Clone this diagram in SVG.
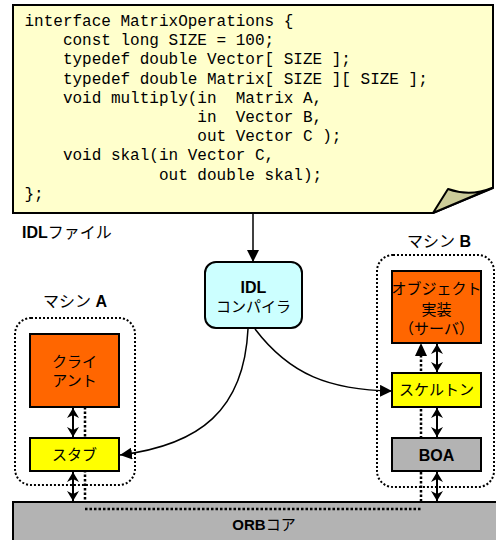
<svg xmlns="http://www.w3.org/2000/svg" width="496" height="540" viewBox="0 0 496 540">
<style>
.code{font-family:"Liberation Mono","DejaVu Sans Mono",monospace;font-size:16px;fill:#000;white-space:pre}
.lbl{font-family:"Liberation Sans","Noto Sans CJK JP",sans-serif;font-size:15px;fill:#000}
.hdr{font-size:16px}
.b{font-weight:bold}
.box{stroke:#000;stroke-width:2}
.dotbox{fill:none;stroke:#000;stroke-width:2;stroke-dasharray:2 2}
.conn{fill:none;stroke:#000;stroke-width:1.5}
.dbl{fill:none;stroke:#000;stroke-width:2;marker-start:url(#ah2);marker-end:url(#ah2)}
.dots{fill:none;stroke:#000;stroke-width:2.5;stroke-dasharray:2.5 2}
</style>
<defs>
<marker id="ah" viewBox="0 0 12 12" refX="12" refY="6" markerWidth="12" markerHeight="12" markerUnits="userSpaceOnUse" orient="auto">
<path d="M0,0 L12,6 L0,12 z" fill="#000"/>
</marker>
<marker id="ah2" viewBox="0 0 10 12" refX="10" refY="6" markerWidth="10" markerHeight="12" markerUnits="userSpaceOnUse" orient="auto-start-reverse">
<path d="M0,0 L10,6 L0,12 L3,6 z" fill="#000"/>
</marker>
</defs>

<g id="idl-file">
<path d="M13,5 H493 V188 L433,213 H13 Z" fill="#ffffcc" stroke="#000" stroke-width="2"/>
<path d="M433,213 L448,189 Q470,197 492,188 Z" fill="#cccc99" stroke="#000" stroke-width="2" stroke-linejoin="round"/>
<text class="code" xml:space="preserve" x="24.5" y="26">interface MatrixOperations {</text>
<text class="code" xml:space="preserve" x="24.5" y="45.2">    const long SIZE = 100;</text>
<text class="code" xml:space="preserve" x="24.5" y="64.4">    typedef double Vector[ SIZE ];</text>
<text class="code" xml:space="preserve" x="24.5" y="83.6">    typedef double Matrix[ SIZE ][ SIZE ];</text>
<text class="code" xml:space="preserve" x="24.5" y="102.8">    void multiply(in  Matrix A,</text>
<text class="code" xml:space="preserve" x="24.5" y="122">                  in  Vector B,</text>
<text class="code" xml:space="preserve" x="24.5" y="141.2">                  out Vector C );</text>
<text class="code" xml:space="preserve" x="24.5" y="160.4">    void skal(in Vector C,</text>
<text class="code" xml:space="preserve" x="24.5" y="179.6">              out double skal);</text>
<text class="code" xml:space="preserve" x="24.5" y="198.8">};</text>
<text class="lbl hdr" x="22" y="238"><tspan class="b">IDL</tspan>ファイル</text>
</g>

<g id="machine-a">
<rect class="dotbox" x="15" y="318" width="120" height="167" rx="16"/>
<text class="lbl hdr" x="75" y="307" text-anchor="middle">マシン <tspan class="b">A</tspan></text>
</g>

<g id="machine-b">
<rect class="dotbox" x="377" y="255" width="117" height="232" rx="16"/>
<text class="lbl hdr" x="439" y="247" text-anchor="middle">マシン <tspan class="b">B</tspan></text>
</g>

<g id="connectors">
<path class="dots" d="M85,407 V509 H421 V355"/>
<path d="M415,356 L421,343 L427,356 z" fill="#000"/>
<line class="dbl" x1="73" y1="408" x2="73" y2="437"/>
<line class="dbl" x1="73" y1="472" x2="73" y2="501"/>
<line class="dbl" x1="437" y1="344" x2="437" y2="372"/>
<line class="dbl" x1="437" y1="408" x2="437" y2="437"/>
<line class="dbl" x1="437" y1="472" x2="437" y2="501"/>
<line class="conn" x1="253" y1="214" x2="253" y2="262" marker-end="url(#ah)"/>
<path class="conn" d="M248,329 C244,410 200,445 120,455" marker-end="url(#ah)"/>
<path class="conn" d="M255,329 C290,375 330,390 392,391" marker-end="url(#ah)"/>
</g>

<g id="idl-compiler">
<rect class="box" x="205" y="262" width="97" height="66" rx="11" fill="#ccffff"/>
<text class="lbl hdr b" x="253.5" y="293" text-anchor="middle">IDL</text>
<text class="lbl" x="253.5" y="312" text-anchor="middle">コンパイラ</text>
</g>

<g id="client">
<rect class="box" x="30" y="334" width="89" height="73" fill="#ff6600"/>
<text class="lbl" x="74.5" y="367" text-anchor="middle">クライ</text>
<text class="lbl" x="74.5" y="386" text-anchor="middle">アント</text>
</g>

<g id="stub">
<rect class="box" x="30" y="438" width="89" height="33" fill="#ffff00"/>
<text class="lbl" x="74.5" y="460" text-anchor="middle">スタブ</text>
</g>

<g id="object">
<rect class="box" x="392" y="271" width="89" height="72" fill="#ff6600"/>
<text class="lbl" x="436.5" y="294" text-anchor="middle" font-size="14">オブジェクト</text>
<text class="lbl" x="436.5" y="315" text-anchor="middle">実装</text>
<text class="lbl" x="436.5" y="334" text-anchor="middle" font-size="14">（サーバ）</text>
</g>

<g id="skeleton">
<rect class="box" x="392" y="373" width="89" height="34" fill="#ffff00"/>
<text class="lbl" x="436.5" y="395" text-anchor="middle">スケルトン</text>
</g>

<g id="boa">
<rect class="box" x="392" y="438" width="89" height="33" fill="#b3b3b3"/>
<text class="lbl hdr b" x="436.5" y="461" text-anchor="middle">BOA</text>
</g>

<g id="orb-core">
<rect class="box" x="13" y="502" width="490" height="50" fill="#b3b3b3"/>
<path class="dots" d="M85,509 H421"/>
<text class="lbl" x="264" y="530" text-anchor="middle" font-size="17"><tspan class="b">ORB</tspan>コア</text>
</g>
</svg>
